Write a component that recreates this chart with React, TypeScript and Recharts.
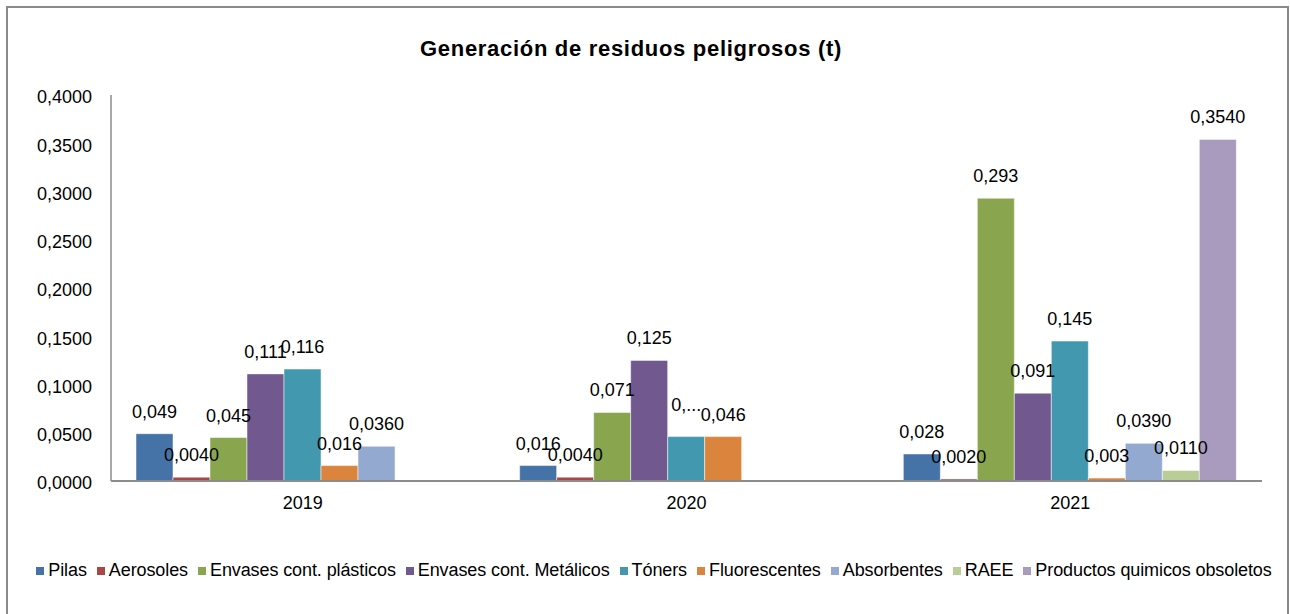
import { type ReactElement } from 'react'
import { BarChart, Bar, XAxis, YAxis, Legend, LabelList } from 'recharts'

const years = ['2019', '2020', '2021']

const pilas = [0.049, 0.016, 0.028]
const aerosoles = [0.004, 0.004, 0.002]
const envasesPlasticos = [0.045, 0.071, 0.293]
const envasesMetalicos = [0.111, 0.125, 0.091]
const toners = [0.116, 0.046, 0.145]
const fluorescentes = [0.016, 0.046, 0.003]
const absorbentes = [0.036, null, 0.039]
const raee = [null, null, 0.011]
const productosQuimicos = [null, null, 0.354]

const yTicks = [0, 0.05, 0.1, 0.15, 0.2, 0.25, 0.3, 0.35, 0.4]

// label shown cut off in the original (Tóners, 2020)
const clippedLabel = { series: 'Tóners', year: '2020', text: '0,...' }

const series = [
  { name: 'Pilas', values: pilas, color: '#4572A7', decimals: 3 },
  { name: 'Aerosoles', values: aerosoles, color: '#AA4643', decimals: 4 },
  { name: 'Envases cont. plásticos', values: envasesPlasticos, color: '#89A54E', decimals: 3 },
  { name: 'Envases cont. Metálicos', values: envasesMetalicos, color: '#71588F', decimals: 3 },
  { name: 'Tóners', values: toners, color: '#4198AF', decimals: 3 },
  { name: 'Fluorescentes', values: fluorescentes, color: '#DB843D', decimals: 3 },
  { name: 'Absorbentes', values: absorbentes, color: '#93A9CF', decimals: 4 },
  { name: 'RAEE', values: raee, color: '#B9CD96', decimals: 4 },
  { name: 'Productos quimicos obsoletos', values: productosQuimicos, color: '#A99BBD', decimals: 4 },
]

const seriesOrder = series.map((s) => s.name)

const data = years.map((year, i) => {
  const row: Record<string, string | number | null> = { year }
  series.forEach((s) => {
    row[s.name] = s.values[i]
  })
  return row
})

const fmt = (v: number, d: number) => v.toFixed(d).replace('.', ',')

const FONT = "'Liberation Sans', Arial, sans-serif"

export default function App(): ReactElement {
  return (
    <div
      style={{
        position: 'absolute',
        left: 0,
        top: 0,
        width: 1290,
        height: 614,
        overflow: 'hidden',
        fontFamily: FONT,
        background: '#fff',
      }}
    >
      <div
        style={{
          position: 'absolute',
          left: 6,
          top: 6,
          width: 1279,
          height: 640,
          border: '2px solid #8a8a8a',
        }}
      />
      <div
        style={{
          position: 'absolute',
          left: 0,
          top: 36,
          width: 1262,
          textAlign: 'center',
          fontWeight: 'bold',
          fontSize: 22,
          letterSpacing: 0.7,
          color: '#000',
        }}
      >
        Generación de residuos peligrosos (t)
      </div>
      <div style={{ position: 'absolute', left: 0, top: 0 }}>
        <BarChart
          width={1290}
          height={614}
          data={data}
          barGap={0}
          barSize={37}
          margin={{ top: 95, right: 28, bottom: 103, left: 11 }}
        >
          <XAxis
            dataKey="year"
            height={30}
            tickLine={false}
            tickSize={0}
            tickMargin={15}
            axisLine={{ stroke: '#8c8c8c', strokeWidth: 2 }}
            tick={{ fill: '#000', fontSize: 18 }}
          />
          <YAxis
            width={100}
            domain={[0, 0.4]}
            ticks={yTicks}
            interval={0}
            tickLine={false}
            tickSize={0}
            tickMargin={19}
            axisLine={{ stroke: '#8c8c8c', strokeWidth: 1.5 }}
            tick={{ fill: '#000', fontSize: 18, dy: 2 }}
            tickFormatter={(v: number) => fmt(v, 4)}
          />
          <Legend
            layout="horizontal"
            verticalAlign="middle"
            align="center"
            iconType="square"
            iconSize={8}
            itemSorter={(item: any) => seriesOrder.indexOf(String(item.value))}
            wrapperStyle={{ top: 560, left: 0, width: 1318, fontSize: 18, letterSpacing: -0.1 }}
            formatter={(value: string) => <span style={{ color: '#000' }}>{value}</span>}
          />
          {series.map((s) => (
            <Bar
              key={s.name}
              dataKey={s.name}
              fill={s.color}
              stroke="#ffffff"
              strokeWidth={0.5}
              isAnimationActive={false}
            >
              <LabelList
                dataKey={s.name}
                position="top"
                content={(props: any) => {
                  const { x, y, width, value, index } = props
                  if (typeof value !== 'number') return null
                  let text = fmt(value, s.decimals)
                  let lift = 16
                  if (s.name === clippedLabel.series && years[index] === clippedLabel.year) {
                    text = clippedLabel.text
                    lift = 26
                  }
                  return (
                    <text
                      x={Number(x) + Number(width) / 2}
                      y={Number(y) - lift}
                      textAnchor="middle"
                      fill="#000"
                      fontSize={18}
                    >
                      {text}
                    </text>
                  )
                }}
              />
            </Bar>
          ))}
        </BarChart>
      </div>
    </div>
  )
}
